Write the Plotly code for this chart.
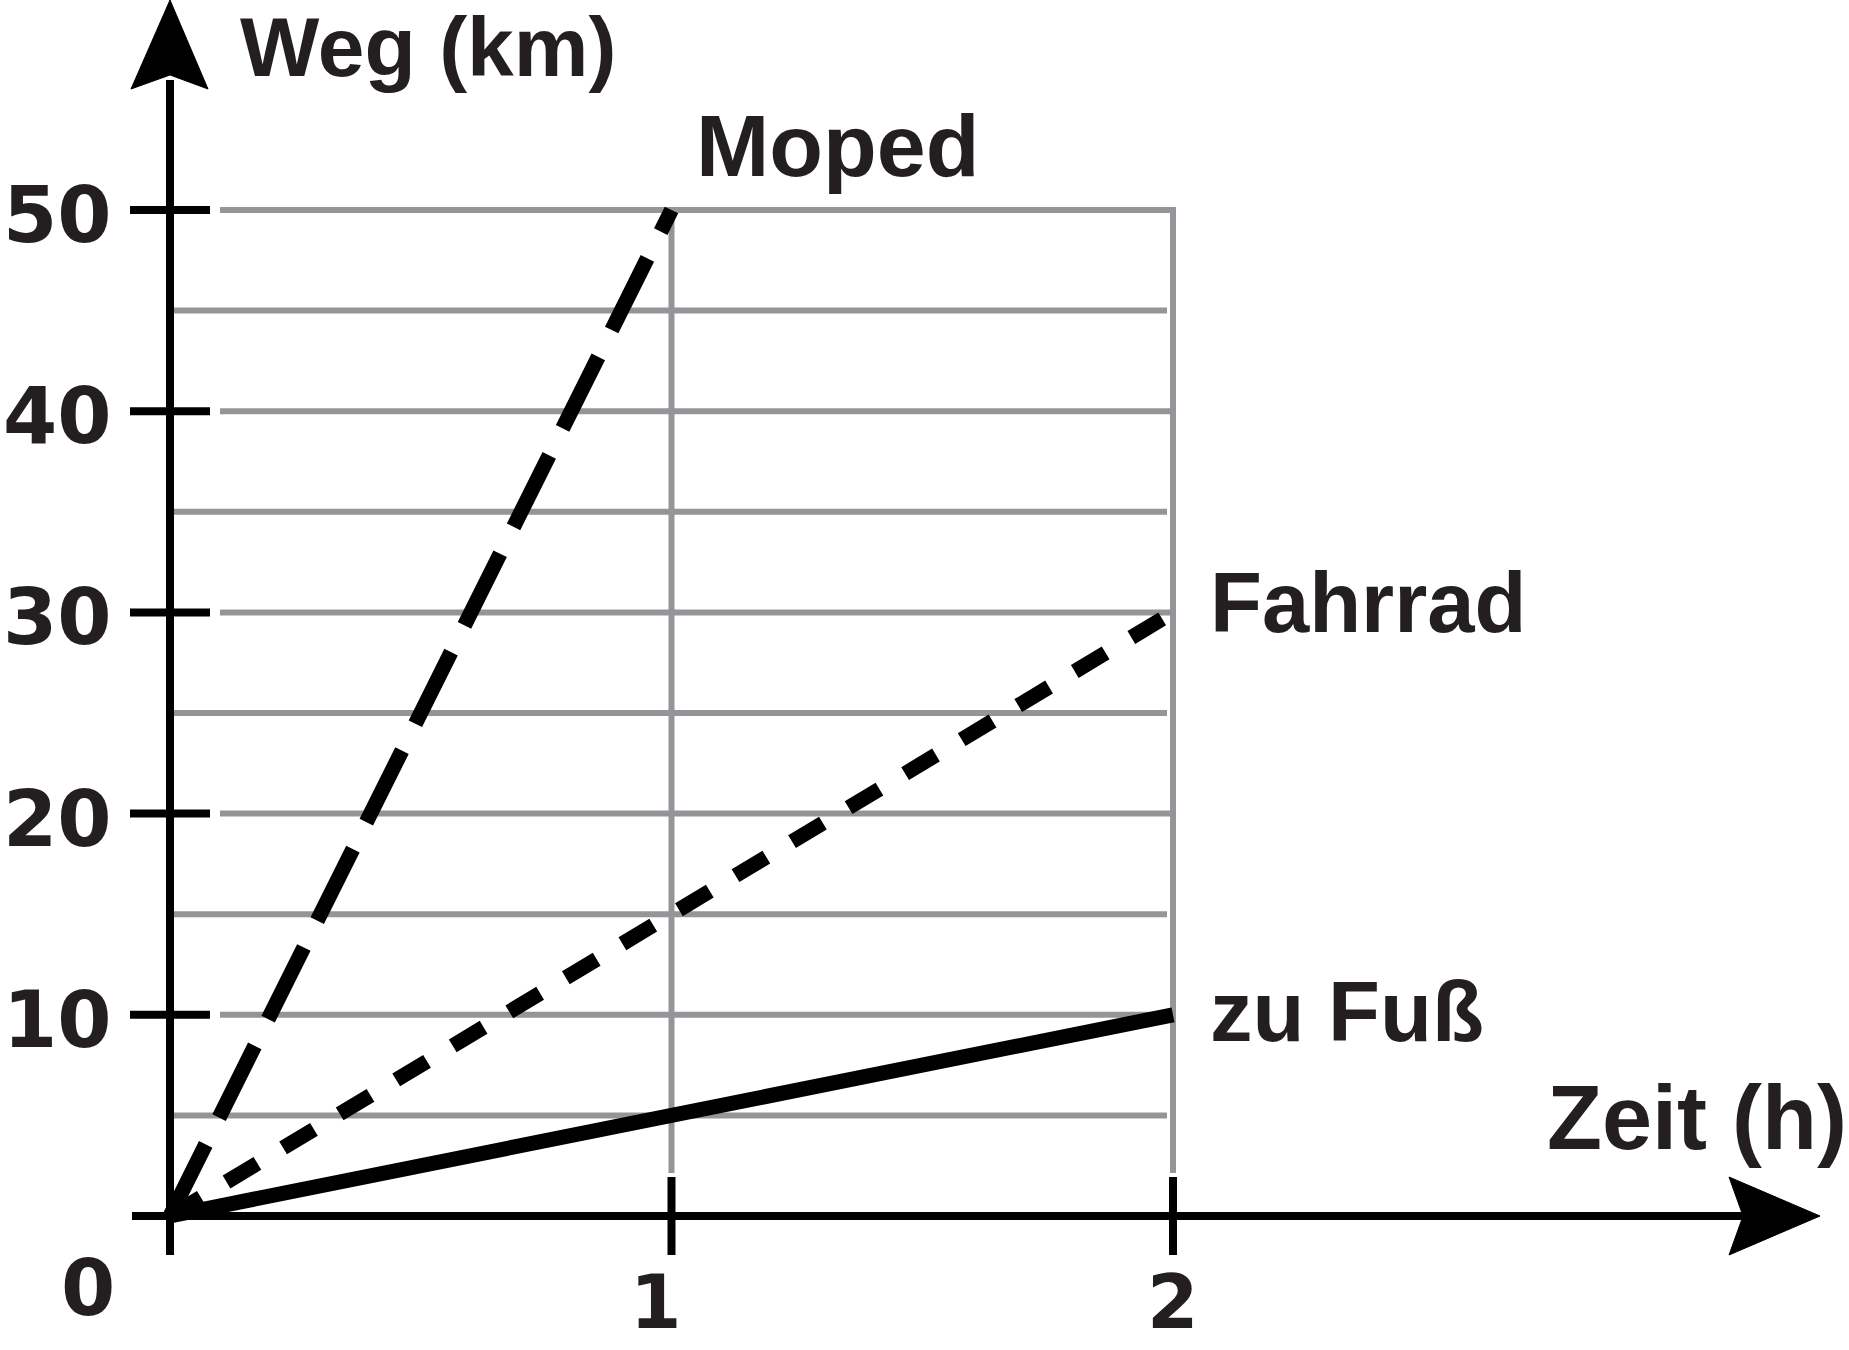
import plotly.graph_objects as go

# ---- data ----
series_names = ["Moped", "Fahrrad", "zu Fuß"]
time_h = [0, 1, 2]
moped_x = [0, 1]
moped_km = [0, 50]
fahrrad_x = [0, 2]
fahrrad_km = [0, 30]
fuss_x = [0, 2]
fuss_km = [0, 10]
x_ticks = [1, 2]
x_tick_labels = ["1", "2"]
y_ticks = [10, 20, 30, 40, 50]
y_tick_labels = ["10", "20", "30", "40", "50"]
grid_values = [5, 10, 15, 20, 25, 30, 35, 40, 45, 50]
x_title = "Zeit (h)"
y_title = "Weg (km)"

W, H = 1849, 1350
X0, XS = 170.0, 501.5   # pixel of x=0, px per hour
Y0, YS = 1216.0, 20.12  # pixel of y=0, px per km


def dx(px):
    return (px - X0) / XS


def dy(py):
    return (Y0 - py) / YS


GRAY = "#939598"
BLACK = "#000000"
TXT = "#231f20"
FONT = "Liberation Sans"
DFONT = "DejaVu Sans"

fig = go.Figure()

fig.add_trace(go.Scatter(x=fuss_x, y=fuss_km, mode="lines", name=series_names[2],
                         line=dict(color=BLACK, width=15)))
fig.add_trace(go.Scatter(x=fahrrad_x, y=fahrrad_km, mode="lines", name=series_names[1],
                         line=dict(color=BLACK, width=15, dash="36px,30px")))
fig.add_trace(go.Scatter(x=moped_x, y=moped_km, mode="lines", name=series_names[0],
                         line=dict(color=BLACK, width=15, dash="80px,30px")))

shapes = []
# gray grid lines
for v in grid_values:
    if v % 10 == 0:
        x0, x1 = dx(220), max(time_h) + 3 / XS
    else:
        x0, x1 = 0, max(time_h) - 6 / XS
    shapes.append(dict(type="line", layer="below", x0=x0, x1=x1, y0=v, y1=v,
                       line=dict(color=GRAY, width=6)))
for t in x_ticks:
    shapes.append(dict(type="line", layer="below", x0=t, x1=t, y0=dy(1173), y1=max(grid_values),
                       line=dict(color=GRAY, width=6)))
# black ticks
for t in x_ticks:
    shapes.append(dict(type="line", x0=t, x1=t, y0=dy(1177), y1=dy(1255),
                       line=dict(color=BLACK, width=8)))
for v in y_ticks:
    shapes.append(dict(type="line", x0=dx(130), x1=dx(210), y0=v, y1=v,
                       line=dict(color=BLACK, width=8)))
# axes
shapes.append(dict(type="line", x0=0, x1=0, y0=dy(1255), y1=dy(80),
                   line=dict(color=BLACK, width=8)))
shapes.append(dict(type="line", x0=dx(132), x1=dx(1750), y0=0, y1=0,
                   line=dict(color=BLACK, width=8)))


def path(pts):
    s = "M " + " L ".join(f"{dx(a)},{dy(b)}" for a, b in pts) + " Z"
    return s


shapes.append(dict(type="path", path=path([(170, 0), (131, 89), (170, 75), (208, 89)]),
                   fillcolor=BLACK, line=dict(color=BLACK, width=1)))
shapes.append(dict(type="path", path=path([(1820, 1216), (1729, 1177), (1743, 1216), (1729, 1255)]),
                   fillcolor=BLACK, line=dict(color=BLACK, width=1)))

annotations = []
# y tick labels
for v, lab in zip(y_ticks, y_tick_labels):
    annotations.append(dict(x=dx(114), y=v, xref="x", yref="y", text=lab, showarrow=False,
                            xanchor="right", yanchor="middle", yshift=-5,
                            font=dict(family=DFONT, size=78, color=TXT, weight="bold")))
# origin label
annotations.append(dict(x=dx(88), y=0, xref="x", yref="y", text="0", showarrow=False,
                        xanchor="center", yanchor="middle", yshift=-72,
                        font=dict(family=DFONT, size=78, color=TXT, weight="bold")))
# x tick labels
for t, lab in zip(x_ticks, x_tick_labels):
    annotations.append(dict(x=t, y=0, xref="x", yref="y", text=lab, showarrow=False,
                            xanchor="center", yanchor="middle", yshift=-86,
                            xshift=-16 if lab == "1" else 0,
                            font=dict(family=DFONT, size=74, color=TXT, weight="bold")))


def label(text, px, py, anchor="left", size=85):
    annotations.append(dict(x=px / W, y=1 - py / H, xref="paper", yref="paper", text=text,
                            showarrow=False, xanchor=anchor, yanchor="middle",
                            font=dict(family=FONT, size=size, color=TXT, weight="bold")))


label(y_title, 238, 47, size=84)
label(series_names[0], 694, 146, size=88)
label(series_names[1], 1208, 602)
label(series_names[2], 1208, 1011)
label(x_title, 1849, 1118, anchor="right", size=90)

fig.update_layout(
    width=W, height=H, autosize=False,
    margin=dict(l=0, r=0, t=0, b=0),
    paper_bgcolor="white", plot_bgcolor="white",
    showlegend=False,
    xaxis=dict(range=[dx(0), dx(W)], visible=False, fixedrange=True),
    yaxis=dict(range=[dy(H), dy(0)], visible=False, fixedrange=True),
    shapes=shapes, annotations=annotations,
)

fig.write_html("out.html", config={"displayModeBar": False},
               post_script="document.body.style.margin='0px';document.body.style.overflow='hidden';")
